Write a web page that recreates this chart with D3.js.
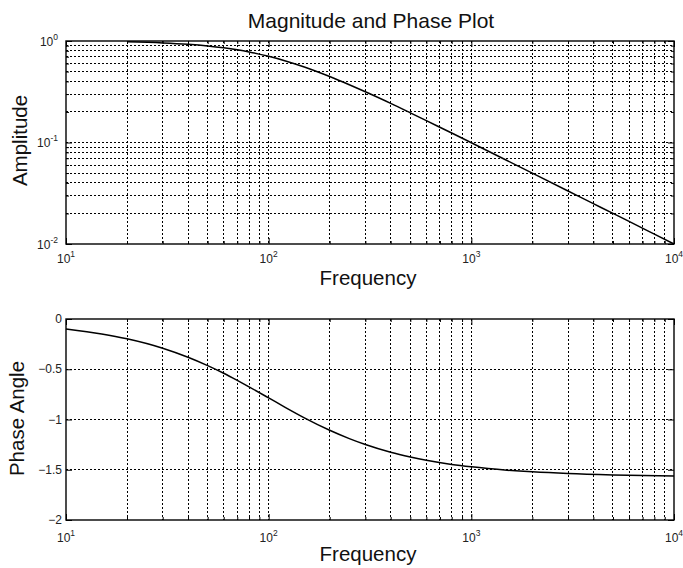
<!DOCTYPE html>
<html>
<head>
<meta charset="utf-8">
<script src="https://cdn.jsdelivr.net/npm/d3@7"></script>
<style>
  html, body { margin: 0; padding: 0; background: #fff; }
  svg { display: block; font-family: "Liberation Sans", Arial, Helvetica, sans-serif; }
</style>
</head>
<body>
<svg id="chart" width="683" height="568"></svg>
<script>
// ---------- data ----------
const ampFreq = [20, 30, 40, 50, 60, 70, 80, 100, 120, 150, 200, 250, 300, 400, 500, 600, 800, 1000, 1500, 2000, 3000, 4000, 5000, 6000, 8000, 10000];
const ampValues = [0.981, 0.958, 0.928, 0.894, 0.857, 0.819, 0.781, 0.707, 0.640, 0.555, 0.447, 0.371, 0.316, 0.243, 0.196, 0.164, 0.124, 0.0995, 0.0665, 0.0499, 0.0333, 0.025, 0.020, 0.0167, 0.0125, 0.0100];

const phaseFreq = [10, 15, 20, 30, 40, 50, 60, 70, 80, 100, 120, 150, 200, 250, 300, 400, 500, 600, 800, 1000, 1500, 2000, 3000, 5000, 10000];
const phaseValues = [-0.0997, -0.149, -0.197, -0.291, -0.381, -0.464, -0.540, -0.611, -0.675, -0.785, -0.876, -0.983, -1.107, -1.190, -1.249, -1.326, -1.373, -1.406, -1.447, -1.471, -1.504, -1.521, -1.538, -1.551, -1.561];

const xMajorTicks = [10, 100, 1000, 10000];
const xMajorExponents = ["1", "2", "3", "4"];
const ampMajorTicks = [0.01, 0.1, 1];
const ampMajorExponents = ["-2", "-1", "0"];
const phaseTicks = [0, -0.5, -1, -1.5, -2];
const phaseTickLabels = ["0", "\u22120.5", "\u22121", "\u22121.5", "\u22122"];

const titleText = "Magnitude and Phase Plot";
const ampYLabel = "Amplitude";
const phaseYLabel = "Phase Angle";
const xLabel = "Frequency";

// ---------- layout ----------
const svg = d3.select("#chart");
const L = 66, R = 674;
const top1 = 41, bot1 = 244;
const top2 = 319, bot2 = 520;

const x = d3.scaleLog().domain([10, 10000]).range([L, R]);
const yAmp = d3.scaleLog().domain([0.01, 1]).range([bot1, top1]);
const yPh = d3.scaleLinear().domain([-2, 0]).range([bot2, top2]);

const xMinor = [];
[10, 100, 1000].forEach(d => { for (let k = 2; k <= 9; k++) xMinor.push(d * k); });
const ampMinor = [];
[0.01, 0.1].forEach(d => { for (let k = 2; k <= 9; k++) ampMinor.push(+(d * k).toPrecision(3)); });

const gridStyle = g => g.attr("stroke", "#000").attr("stroke-width", 1).attr("stroke-dasharray", "1.5,2.5")
  .attr("fill", "none").attr("shape-rendering", "crispEdges");

function panel(yScale, top, bot, hGridVals, yMajor, yMinor) {
  const g = svg.append("g");
  // vertical grid
  const vg = g.append("g").call(gridStyle);
  xMajorTicks.concat(xMinor).filter(v => v > 10 && v < 10000).forEach(v => {
    vg.append("line").attr("x1", x(v)).attr("x2", x(v)).attr("y1", top).attr("y2", bot);
  });
  // horizontal grid
  const hg = g.append("g").call(gridStyle);
  hGridVals.forEach(v => {
    const yy = yScale(v);
    if (Math.abs(yy - top) < 0.5 || Math.abs(yy - bot) < 0.5) return;
    hg.append("line").attr("x1", L).attr("x2", R).attr("y1", yy).attr("y2", yy);
  });

  // axes with inward ticks
  const styleAxis = a => { a.select(".domain").remove(); a.selectAll("line").attr("stroke", "#000").attr("stroke-width", 1); a.selectAll("text").remove(); };
  g.append("g").attr("transform", `translate(0,${bot})`).call(d3.axisBottom(x).tickValues(xMajorTicks).tickSize(-6).tickFormat("")).call(styleAxis);
  g.append("g").attr("transform", `translate(0,${bot})`).call(d3.axisBottom(x).tickValues(xMinor).tickSize(-3).tickFormat("")).call(styleAxis);
  g.append("g").attr("transform", `translate(0,${top})`).call(d3.axisTop(x).tickValues(xMajorTicks).tickSize(-6).tickFormat("")).call(styleAxis);
  g.append("g").attr("transform", `translate(0,${top})`).call(d3.axisTop(x).tickValues(xMinor).tickSize(-3).tickFormat("")).call(styleAxis);
  g.append("g").attr("transform", `translate(${L},0)`).call(d3.axisLeft(yScale).tickValues(yMajor).tickSize(-6).tickFormat("")).call(styleAxis);
  g.append("g").attr("transform", `translate(${R},0)`).call(d3.axisRight(yScale).tickValues(yMajor).tickSize(-6).tickFormat("")).call(styleAxis);
  if (yMinor.length) {
    g.append("g").attr("transform", `translate(${L},0)`).call(d3.axisLeft(yScale).tickValues(yMinor).tickSize(-3).tickFormat("")).call(styleAxis);
    g.append("g").attr("transform", `translate(${R},0)`).call(d3.axisRight(yScale).tickValues(yMinor).tickSize(-3).tickFormat("")).call(styleAxis);
  }
  // box
  g.append("rect").attr("x", L).attr("y", top).attr("width", R - L).attr("height", bot - top)
    .attr("fill", "none").attr("stroke", "#000").attr("stroke-width", 1.4);

  // x tick labels with superscripts
  xMajorTicks.forEach((v, i) => {
    const t = g.append("text").attr("x", x(v)).attr("y", bot + (top === top1 ? 19 : 21.5))
      .attr("text-anchor", "middle").attr("font-size", 12).attr("fill", "#222");
    t.append("tspan").text("10");
    t.append("tspan").attr("font-size", 8.5).attr("dy", -6).text(xMajorExponents[i]);
  });
  // x label
  g.append("text").attr("x", (L + R) / 2 - 2).attr("y", bot + 41).attr("text-anchor", "middle")
    .attr("font-size", 20.5).attr("fill", "#111").text(xLabel);
  return g;
}

const g1 = panel(yAmp, top1, bot1, ampMajorTicks.concat(ampMinor), ampMajorTicks, ampMinor);
const g2 = panel(yPh, top2, bot2, phaseTicks, phaseTicks, []);

// y tick labels (amplitude)
ampMajorTicks.forEach((v, i) => {
  const t = g1.append("text").attr("x", L - 8).attr("y", yAmp(v) + 4.5)
    .attr("text-anchor", "end").attr("font-size", 12).attr("fill", "#222");
  t.append("tspan").text("10");
  t.append("tspan").attr("font-size", 8.5).attr("dy", -6).text(ampMajorExponents[i]);
});
// y tick labels (phase)
phaseTicks.forEach((v, i) => {
  g2.append("text").attr("x", L - 4).attr("y", yPh(v) + 4)
    .attr("text-anchor", "end").attr("font-size", 12).attr("fill", "#222").text(phaseTickLabels[i]);
});

// y labels
svg.append("text").attr("transform", `translate(26.5,${(top1 + bot1) / 2 - 2}) rotate(-90)`)
  .attr("text-anchor", "middle").attr("font-size", 20.5).attr("fill", "#111").text(ampYLabel);
svg.append("text").attr("transform", `translate(23.5,${(top2 + bot2) / 2 - 1}) rotate(-90)`)
  .attr("text-anchor", "middle").attr("font-size", 20.5).attr("fill", "#111").text(phaseYLabel);

// title
svg.append("text").attr("x", 371).attr("y", 28).attr("text-anchor", "middle")
  .attr("font-size", 21).attr("fill", "#111").text(titleText);

// curves
const ampLine = d3.line().x(d => x(d[0])).y(d => yAmp(d[1])).curve(d3.curveMonotoneX);
g1.append("path").datum(d3.zip(ampFreq, ampValues)).attr("d", ampLine)
  .attr("fill", "none").attr("stroke", "#000").attr("stroke-width", 1.5);

const phLine = d3.line().x(d => x(d[0])).y(d => yPh(d[1])).curve(d3.curveMonotoneX);
g2.append("path").datum(d3.zip(phaseFreq, phaseValues)).attr("d", phLine)
  .attr("fill", "none").attr("stroke", "#000").attr("stroke-width", 1.5);
</script>
</body>
</html>
